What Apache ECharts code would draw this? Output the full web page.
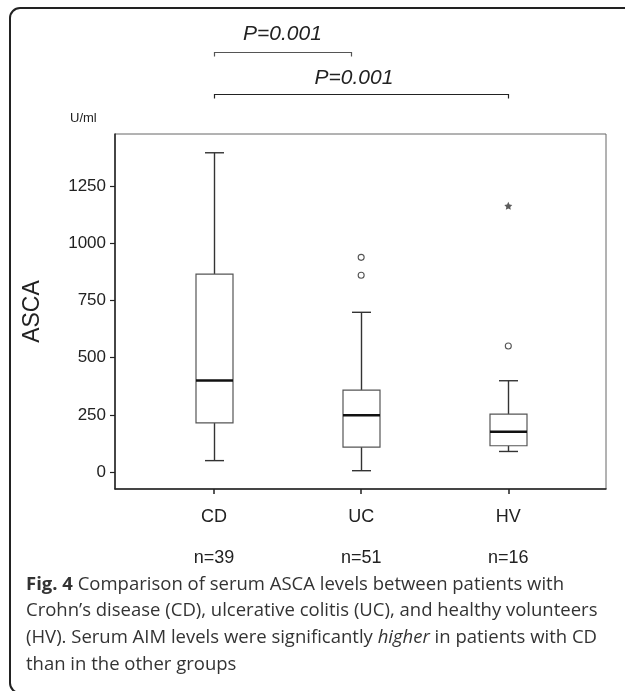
<!DOCTYPE html>
<html>
<head>
<meta charset="utf-8">
<script src="https://cdn.jsdelivr.net/npm/echarts@6/dist/echarts.min.js"></script>
<style>
html,body{margin:0;padding:0;background:#fff;}
#main{width:625px;height:691px;}
</style>
</head>
<body>
<div id="main"></div>
<script>
// ---- data ----
const categories = ['CD', 'UC', 'HV'];
const sampleSizes = [39, 51, 16];
const whiskerLow = [50, 6, 90];
const q1 = [215, 109, 115];
const median = [400, 248, 176];
const q3 = [865, 358, 253];
const whiskerHigh = [1395, 698, 399];
const outlierCategory = ['UC', 'UC', 'HV'];
const outlierValue = [938, 860, 551];
const extremeCategory = ['HV'];
const extremeValue = [1163];
const yTickValues = [0, 250, 500, 750, 1000, 1250];
const pLabels = ['P=0.001', 'P=0.001'];
const captionLines = [
  '{b|Fig. 4} Comparison of serum ASCA levels between patients with',
  'Crohn\u2019s disease (CD), ulcerative colitis (UC), and healthy volunteers',
  '(HV). Serum AIM levels were significantly {i|higher} in patients with CD',
  'than in the other groups'
];

const FONT = 'Liberation Sans, Arial, sans-serif';
const chart = echarts.init(document.getElementById('main'), null, {renderer: 'canvas'});

const boxData = categories.map((c, i) => [i, whiskerLow[i], q1[i], median[i], q3[i], whiskerHigh[i]]);
const outlierData = outlierCategory.map((c, k) => [categories.indexOf(c), outlierValue[k]]);
const extremeData = extremeCategory.map((c, k) => [categories.indexOf(c), extremeValue[k]]);

function renderBox(params, api) {
  const i = api.value(0);
  const pLo = api.coord([i, api.value(1)]);
  const pQ1 = api.coord([i, api.value(2)]);
  const pMed = api.coord([i, api.value(3)]);
  const pQ3 = api.coord([i, api.value(4)]);
  const pHi = api.coord([i, api.value(5)]);
  const x = Math.round(pMed[0]) + 0.5;
  const hb = 18.5, hc = 9.5;
  const wStyle = {stroke: '#333', lineWidth: 1.4};
  return {
    type: 'group',
    children: [
      {type: 'line', shape: {x1: x, y1: pHi[1], x2: x, y2: pQ3[1]}, style: wStyle},
      {type: 'line', shape: {x1: x, y1: pQ1[1], x2: x, y2: pLo[1]}, style: wStyle},
      {type: 'line', shape: {x1: x - hc, y1: pHi[1], x2: x + hc, y2: pHi[1]}, style: wStyle},
      {type: 'line', shape: {x1: x - hc, y1: pLo[1], x2: x + hc, y2: pLo[1]}, style: wStyle},
      {type: 'rect', shape: {x: x - hb, y: pQ3[1], width: 2 * hb, height: pQ1[1] - pQ3[1]},
        style: {fill: '#fff', stroke: '#555', lineWidth: 1.2}},
      {type: 'line', shape: {x1: x - hb, y1: pMed[1], x2: x + hb, y2: pMed[1]},
        style: {stroke: '#111', lineWidth: 2.4}}
    ]
  };
}

const option = {
  animation: false,
  backgroundColor: '#fff',
  grid: {
    left: 115, right: 19, top: 134, bottom: 202,
    show: true, borderColor: '#666', borderWidth: 1, backgroundColor: 'transparent'
  },
  xAxis: {
    type: 'value',
    min: -0.673, max: 2.664,
    splitLine: {show: false},
    axisLine: {show: true, onZero: false, lineStyle: {color: '#222', width: 1.5}},
    axisTick: {show: true, customValues: [0, 1, 2], length: 5, lineStyle: {color: '#222', width: 1.5}},
    axisLabel: {
      customValues: [0, 1, 2],
      margin: 18,
      lineHeight: 20.5,
      fontFamily: FONT, fontSize: 18, color: '#222',
      formatter: function (v) {
        const i = Math.round(v);
        return categories[i] + '\n\nn=' + sampleSizes[i];
      }
    }
  },
  yAxis: {
    type: 'value',
    min: -74, max: 1477,
    name: 'ASCA',
    nameLocation: 'middle',
    nameRotate: 90,
    nameGap: 71,
    nameTextStyle: {fontFamily: FONT, fontSize: 23, color: '#222'},
    splitLine: {show: false},
    axisLine: {show: true, onZero: false, lineStyle: {color: '#222', width: 1.5}},
    axisTick: {show: true, customValues: yTickValues, length: 5, lineStyle: {color: '#222', width: 1.2}},
    axisLabel: {
      customValues: yTickValues,
      margin: 9,
      fontFamily: FONT, fontSize: 17, color: '#222',
      formatter: function (v) { return String(v); }
    }
  },
  series: [
    {
      type: 'custom',
      renderItem: renderBox,
      data: boxData,
      encode: {x: 0, y: [1, 2, 3, 4, 5]},
      clip: false,
      z: 3
    },
    {
      type: 'scatter',
      data: outlierData,
      symbol: 'circle',
      symbolSize: 6,
      itemStyle: {color: '#fff', borderColor: '#555', borderWidth: 1.1, opacity: 1},
      z: 4
    },
    {
      type: 'scatter',
      data: extremeData,
      symbol: 'path://M0,-10 L2.9,-4 9.5,-3.1 4.7,1.5 5.9,8.1 0,5 -5.9,8.1 -4.7,1.5 -9.5,-3.1 -2.9,-4Z',
      symbolSize: 8,
      itemStyle: {color: '#333'},
      z: 4
    }
  ]
};
chart.setOption(option);

// annotations positioned through the x axis scale
const xCD = chart.convertToPixel({xAxisIndex: 0}, 0);
const xB1 = chart.convertToPixel({xAxisIndex: 0}, 0.93);
const xHV = chart.convertToPixel({xAxisIndex: 0}, 2);

function bracket(x1, x2, y, color) {
  return {
    type: 'polyline',
    shape: {points: [[x1, y + 4], [x1, y], [x2, y], [x2, y + 4]]},
    style: {stroke: color, lineWidth: 1.2, fill: null}
  };
}

chart.setOption({
  graphic: [
    {
      type: 'rect',
      shape: {x: 10, y: 8, width: 640, height: 685, r: 10},
      style: {fill: null, stroke: '#222', lineWidth: 2},
      silent: true
    },
    bracket(Math.round(xCD) + 0.5, Math.round(xB1) + 0.5, 52.5, '#555'),
    bracket(Math.round(xCD) + 0.5, Math.round(xHV) + 0.5, 94.5, '#222'),
    {
      type: 'text',
      x: (xCD + xB1) / 2, y: 34,
      style: {text: pLabels[0], fontFamily: FONT, fontStyle: 'italic', fontSize: 21, fill: '#222',
        align: 'center', verticalAlign: 'middle'}
    },
    {
      type: 'text',
      x: 354, y: 78,
      style: {text: pLabels[1], fontFamily: FONT, fontStyle: 'italic', fontSize: 21, fill: '#222',
        align: 'center', verticalAlign: 'middle'}
    },
    {
      type: 'text',
      x: 70, y: 118,
      style: {text: 'U/ml', fontFamily: FONT, fontSize: 13, fill: '#222', verticalAlign: 'middle'}
    },
    {
      type: 'text',
      x: 26, y: 571,
      style: {
        text: captionLines.join('\n'),
        fontFamily: 'Open Sans, sans-serif', fontSize: 18.5, lineHeight: 26.7, fill: '#333',
        rich: {
          b: {fontFamily: 'Open Sans, sans-serif', fontWeight: 'bold', fontSize: 18.5, lineHeight: 26.7, fill: '#333'},
          i: {fontFamily: 'Open Sans, sans-serif', fontStyle: 'italic', fontSize: 18.5, lineHeight: 26.7, fill: '#333'}
        }
      }
    }
  ]
});
</script>
</body>
</html>
